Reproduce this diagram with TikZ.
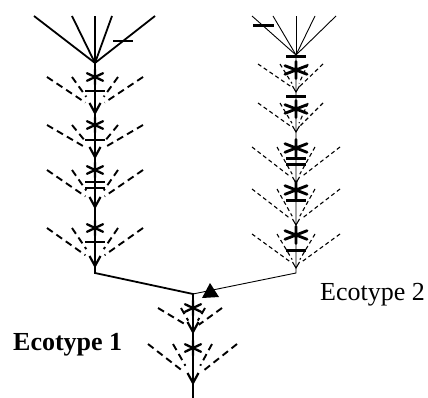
\documentclass[tikz,border=0pt]{standalone}
\usepackage{fontspec}
\setmainfont{Liberation Serif}
\usetikzlibrary{calc}
\begin{document}
\begin{tikzpicture}[x=1pt,y=-1pt,
  thickstem/.style={line width=1.8pt},
  thinstem/.style={line width=0.9pt},
  ldash/.style={line width=1.9pt, dash pattern=on 7pt off 4.5pt},
  rdash/.style={line width=1.1pt, dash pattern=on 4pt off 3pt},
  ltick/.style={line width=2.6pt},
  rtick/.style={line width=3pt},
  lstar/.style={line width=2.3pt, line cap=round},
  rstar/.style={line width=2.8pt, line cap=round},
  larrow/.style={line width=2.2pt},
  rarrow/.style={line width=1.1pt},
  label/.style={anchor=base west, inner sep=0pt},
  ]
\useasboundingbox (0,0) rectangle (428,398);
% main stems
\coordinate (LA) at (95,63);
\coordinate (LB) at (95,273);
\coordinate (RA) at (296,55);
\coordinate (RB) at (296,273);
\coordinate (J) at (193,294);
\coordinate (D) at (193,398);
\foreach \x in {34,72,95,112,155} \draw[thickstem] (LA) -- (\x,16);
\foreach \x in {252,273,296,315,336} \draw[thinstem] (RA) -- (\x,16);
\draw[thickstem] (LA) -- (LB) -- (J) -- (D);
\draw[thinstem] (RA) -- (RB) -- (J);
\fill (202,298) -- (210,283) -- (219,297) -- cycle;
% fan ticks
\draw[ltick] (113,41) -- (133,41);
\draw[rtick] (253,26) -- (274,26);
% stem ticks
\foreach \y in {91,140,182,188,242} \draw[ltick] (85,\y) -- (105,\y);
\foreach \y in {57,97,159,165,200,250} \draw[rtick] (286,\y) -- (306,\y);
% asterisks
\foreach \p in {(95,77),(95,125),(95,170),(95,228),(193,308),(193,348)}
  \draw[lstar] \p ++(0,-7.5) -- ++(0,15) \p ++(-8,-3.8) -- ++(16,7.6) \p ++(-8,3.8) -- ++(16,-7.6);
\foreach \p in {(296,70),(296,109),(296,148),(296,190),(296,235)}
  \draw[rstar] \p ++(0,-8.5) -- ++(0,17) \p ++(-11,-4.3) -- ++(22,8.6) \p ++(-11,4.3) -- ++(22,-8.6);
% arrowheads
\foreach \p in {(95,113),(95,157),(95,207),(95,266),(193,332),(193,383)}
  \draw[larrow] \p ++(-5.5,-10) -- ++(5.5,10) -- ++(5.5,-10);
\foreach \p in {(296,92),(296,132),(296,183),(296,225),(296,268)}
  \draw[rarrow] \p ++(-3.5,-6) -- ++(3.5,6) -- ++(3.5,-6);
% dashed leaves, left stem
\foreach \s/\t in {77/113,125/157,170/207,228/266}
  \foreach \x/\f in {47/0.8,143/0.8,72/0.62,118/0.62}
    \draw[ldash] (\x,\s) -- ($(\x,\s)!\f!(95,\t-4)$);
% dashed leaves, lower stem
\foreach \x/\f in {158/0.8,222/0.8,181/0.6,205/0.6}
  \draw[ldash] (\x,308) -- ($(\x,308)!\f!(193,329)$);
\foreach \x/\f in {148/0.8,237/0.8,173/0.62,212/0.62}
  \draw[ldash] (\x,344) -- ($(\x,344)!\f!(193,379)$);
% dashed leaves, right stem
\foreach \s/\t in {64/90,103/130}
  \foreach \x/\f in {258/0.87,323/0.87,280/0.75,308/0.75}
    \draw[rdash] (\x,\s) -- ($(\x,\s)!\f!(296,\t)$);
\foreach \s/\t in {147/181,189/223,234/266}
  \foreach \x/\f in {252/0.88,340/0.88,277/0.8,315/0.8}
    \draw[rdash] (\x,\s) -- ($(\x,\s)!\f!(296,\t)$);
% labels
\node[label] (eco1) at (13,350) {\fontsize{26}{30}\selectfont\bfseries Ecotype 1};
\node[label] (eco2) at (320,300) {\fontsize{26}{30}\selectfont Ecotype 2};
\end{tikzpicture}
\end{document}
